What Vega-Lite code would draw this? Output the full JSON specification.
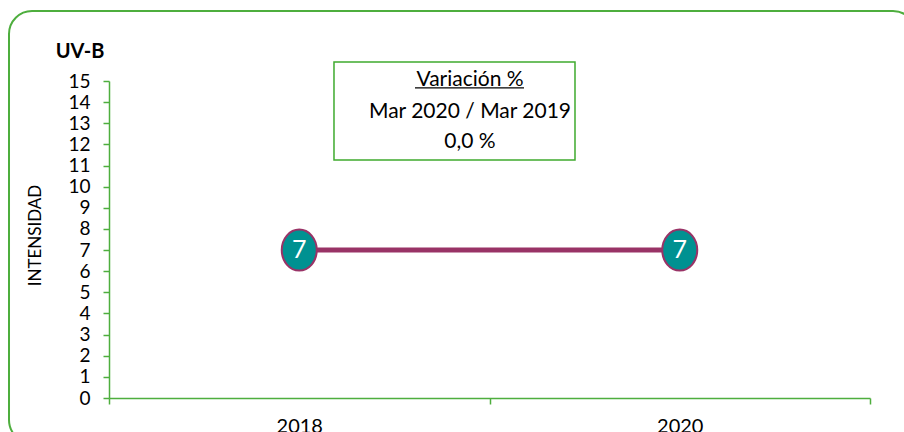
{
  "$schema": "https://vega.github.io/schema/vega-lite/v6.json",
  "width": 761,
  "height": 317,
  "autosize": {"type": "none"},
  "padding": {"left": 109, "top": 81, "right": 34, "bottom": 34},
  "background": "white",
  "config": {"view": {"stroke": null}, "font": "Lato", "axis": {"labelOverlap": false, "labelBound": false}},
  "datasets": {
    "series": [
      {"year": "2018", "pos": 0.5, "value": 7},
      {"year": "2020", "pos": 1.5, "value": 7}
    ],
    "one": [{"k": 1}]
  },
  "layer": [
    {
      "data": {"name": "series"},
      "mark": {"type": "line", "color": "#993366", "strokeWidth": 5},
      "encoding": {
        "x": {
          "field": "pos", "type": "quantitative",
          "scale": {"domain": [0, 2], "nice": false, "zero": false},
          "axis": {
            "title": null,
            "values": [0, 0.5, 1, 1.5, 2],
            "labelExpr": "datum.value == 0.5 ? '2018' : (datum.value == 1.5 ? '2020' : '')",
            "tickOpacity": {"condition": {"test": "datum.value == 0.5 || datum.value == 1.5", "value": 0}, "value": 1},
            "grid": false,
            "labelOverlap": false,
            "domainColor": "#4EAE3E", "domainWidth": 1.5,
            "tickColor": "#4EAE3E", "tickWidth": 1.5, "tickSize": 6,
            "labelFont": "Lato", "labelFontSize": 20, "labelColor": "#000000", "labelPadding": 12
          }
        },
        "y": {
          "field": "value", "type": "quantitative",
          "scale": {"domain": [0, 15], "nice": false},
          "axis": {
            "title": "INTENSIDAD",
            "titleFont": "Lato", "titleFontSize": 17, "titleFontWeight": "normal", "titleColor": "#000000",
            "titleAngle": -90, "titleAlign": "center", "titleBaseline": "middle",
            "titleX": -74, "titleY": 154,
            "values": [0, 1, 2, 3, 4, 5, 6, 7, 8, 9, 10, 11, 12, 13, 14, 15],
            "tickCount": 16,
            "grid": false,
            "labelOverlap": false,
            "labelSeparation": -12,
            "labelFlush": false,
            "domainColor": "#4EAE3E", "domainWidth": 1.5,
            "tickColor": "#4EAE3E", "tickWidth": 1.5, "tickSize": 6,
            "labelFont": "Lato", "labelFontSize": 19, "labelColor": "#000000", "labelPadding": 13
          }
        }
      }
    },
    {
      "data": {"name": "one"},
      "mark": {"type": "rect", "fill": null, "stroke": "#4EAE3E", "strokeWidth": 2, "cornerRadius": 23},
      "encoding": {
        "x": {"datum": -0.2628, "type": "quantitative"},
        "x2": {"datum": 2.121},
        "y": {"datum": 18.31, "type": "quantitative"},
        "y2": {"datum": -2.13}
      }
    },
    {
      "data": {"name": "one"},
      "mark": {"type": "text", "text": "UV-B", "font": "Lato", "fontSize": 20, "fontWeight": "bold", "color": "#000000", "baseline": "alphabetic", "align": "center"},
      "encoding": {
        "x": {"datum": -0.0762, "type": "quantitative"},
        "y": {"datum": 16.09, "type": "quantitative"}
      }
    },
    {
      "data": {"name": "one"},
      "mark": {"type": "rect", "fill": "white", "stroke": "#3FAA2E", "strokeWidth": 1.5},
      "encoding": {
        "x": {"datum": 0.5913, "type": "quantitative"},
        "x2": {"datum": 1.2247},
        "y": {"datum": 15.90, "type": "quantitative"},
        "y2": {"datum": 11.26}
      }
    },
    {
      "data": {"name": "one"},
      "mark": {"type": "text", "text": "Variación %", "font": "Lato", "fontSize": 21, "color": "#000000", "baseline": "alphabetic", "align": "center"},
      "encoding": {
        "x": {"datum": 0.9488, "type": "quantitative"},
        "y": {"datum": 14.76, "type": "quantitative"}
      }
    },
    {
      "data": {"name": "one"},
      "mark": {"type": "rule", "color": "#000000", "strokeWidth": 1.2},
      "encoding": {
        "x": {"datum": 0.8042, "type": "quantitative"},
        "x2": {"datum": 1.0907},
        "y": {"datum": 14.67, "type": "quantitative"}
      }
    },
    {
      "data": {"name": "one"},
      "mark": {"type": "text", "text": "Mar 2020 / Mar 2019", "font": "Lato", "fontSize": 21, "color": "#000000", "baseline": "alphabetic", "align": "center"},
      "encoding": {
        "x": {"datum": 0.9488, "type": "quantitative"},
        "y": {"datum": 13.25, "type": "quantitative"}
      }
    },
    {
      "data": {"name": "one"},
      "mark": {"type": "text", "text": "0,0 %", "font": "Lato", "fontSize": 21, "color": "#000000", "baseline": "alphabetic", "align": "center"},
      "encoding": {
        "x": {"datum": 0.9488, "type": "quantitative"},
        "y": {"datum": 11.83, "type": "quantitative"}
      }
    },
    {
      "data": {"name": "series"},
      "mark": {"type": "point", "shape": "M -0.854 0 A 0.854 1 0 1 0 0.854 0 A 0.854 1 0 1 0 -0.854 0 Z", "size": 1681, "filled": true, "fill": "#009191", "stroke": "#993366", "strokeWidth": 2, "opacity": 1, "fillOpacity": 1, "strokeOpacity": 1},
      "encoding": {
        "x": {"field": "pos", "type": "quantitative"},
        "y": {"field": "value", "type": "quantitative"}
      }
    },
    {
      "data": {"name": "series"},
      "mark": {"type": "text", "font": "Liberation Sans Narrow, Lato", "fontSize": 25, "color": "#FFFFFF", "align": "center", "baseline": "middle"},
      "encoding": {
        "x": {"field": "pos", "type": "quantitative"},
        "y": {"field": "value", "type": "quantitative"},
        "text": {"field": "value", "type": "quantitative"}
      }
    }
  ]
}
